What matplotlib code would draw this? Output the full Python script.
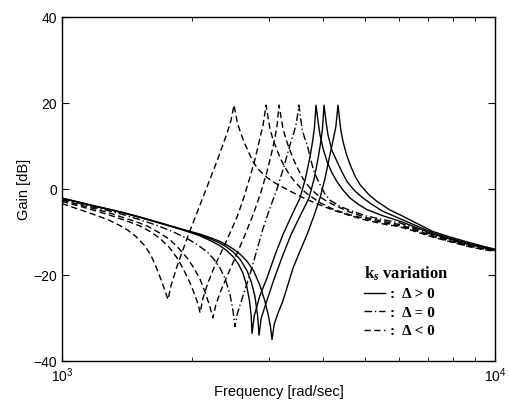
import matplotlib
matplotlib.use("Agg")
from matplotlib import pyplot as plt
from matplotlib.lines import Line2D
from matplotlib.ticker import LogLocator, NullFormatter

plt.rcParams['font.family'] = ['Liberation Sans', 'DejaVu Sans']
plt.rcParams['mathtext.fontset'] = 'custom'
plt.rcParams['mathtext.rm'] = 'Liberation Sans'
plt.rcParams['mathtext.bf'] = 'Liberation Serif:bold'
plt.rcParams['mathtext.it'] = 'Liberation Serif:italic:bold'

# ks variation, delta > 0 (solid)
freq_s1 = [1000, 1100, 1198, 1300, 1400, 1500, 1650, 1800, 1950, 2084, 2200, 2317, 2400, 2482,
           2560, 2618, 2670, 2710, 2735, 2747, 2780, 2860, 2974, 3100, 3238, 3390, 3545, 3650,
           3739, 3790, 3830, 3860, 3905, 3943, 4010, 4093, 4200, 4316, 4460, 4626, 4840, 5063,
           5500, 6034, 6600, 7192, 7900, 8614, 9300, 10000]
gain_s1 = [-2.2, -3.2, -4.1, -4.9, -5.7, -6.5, -7.7, -8.8, -9.9, -10.9, -12.0, -13.2, -14.3, -15.7,
           -17.6, -19.6, -22.5, -26.0, -29.5, -33.6, -29.5, -25.0, -20.7, -15.5, -10.6, -6.2, -2.1, 2.5,
           7.5, 11.0, 14.5, 19.5, 15.5, 12.6, 9.3, 6.4, 3.8, 1.7, -0.3, -2.1, -3.6, -4.8,
           -6.2, -7.5, -9.0, -10.5, -11.7, -12.8, -13.5, -14.2]
freq_s2 = [1000, 1100, 1198, 1300, 1400, 1500, 1650, 1800, 1950, 2084, 2200, 2317, 2400, 2482,
           2580, 2675, 2740, 2790, 2830, 2851, 2885, 2960, 3087, 3230, 3380, 3550, 3719, 3820,
           3901, 3960, 3995, 4028, 4080, 4114, 4200, 4316, 4430, 4553, 4750, 4957, 5200, 5512,
           6034, 6600, 7192, 7900, 8614, 9300, 10000]
gain_s2 = [-2.15, -3.15, -4.05, -4.85, -5.65, -6.45, -7.65, -8.75, -9.8, -10.7, -11.6, -12.6, -13.5, -14.6,
           -16.4, -19.0, -21.8, -25.0, -29.5, -34.0, -30.0, -26.5, -21.0, -15.6, -10.6, -6.2, -2.1, 2.3,
           7.0, 11.0, 14.0, 19.5, 15.0, 12.6, 9.0, 6.4, 4.0, 1.7, -0.5, -2.1, -3.6, -5.2,
           -6.9, -8.6, -10.2, -11.5, -12.6, -13.4, -14.1]
freq_s3 = [1000, 1100, 1198, 1300, 1400, 1500, 1650, 1800, 1950, 2084, 2200, 2317, 2400, 2482,
           2580, 2675, 2770, 2867, 2940, 2990, 3030, 3055, 3090, 3150, 3238, 3416, 3550, 3680,
           3810, 3943, 4050, 4158, 4230, 4290, 4339, 4400, 4457, 4540, 4626, 4750, 4879, 5100,
           5341, 5700, 6034, 6600, 7192, 7900, 8614, 9300, 10000]
gain_s3 = [-2.1, -3.1, -4.0, -4.8, -5.6, -6.4, -7.6, -8.7, -9.7, -10.5, -11.3, -12.2, -13.0, -13.9,
           -15.2, -16.8, -19.0, -22.5, -26.0, -29.0, -32.0, -35.0, -31.5, -29.0, -26.0, -18.4, -14.3, -10.6,
           -6.5, -2.1, 2.5, 8.0, 11.5, 14.5, 19.5, 14.0, 11.0, 8.0, 5.7, 3.0, 1.0, -1.2,
           -2.9, -4.8, -6.0, -8.0, -9.9, -11.2, -12.3, -13.2, -14.0]

# delta = 0 (dash-dot)
freq_c1 = [1000, 1100, 1198, 1300, 1400, 1500, 1650, 1800, 1944, 2050, 2162, 2250, 2317, 2380,
           2443, 2480, 2509, 2540, 2577, 2718, 2912, 3020, 3137, 3250, 3362, 3430, 3480, 3526,
           3583, 3630, 3680, 3740, 3799, 3870, 3943, 4050, 4158, 4380, 4626, 5063, 5500, 6034,
           6600, 7192, 7900, 8614, 9300, 10000]
gain_c1 = [-2.4, -3.4, -4.4, -5.2, -6.1, -7.0, -8.4, -9.9, -11.5, -12.9, -14.6, -16.5, -18.4, -20.8,
           -24.5, -28.0, -32.0, -29.0, -27.0, -19.8, -9.2, -4.5, 0.0, 5.0, 10.3, 13.0, 15.5, 19.5,
           14.0, 12.0, 10.4, 7.5, 4.8, 2.7, 1.0, -1.2, -2.6, -4.0, -5.0, -6.3, -7.1, -7.9,
           -9.3, -10.7, -11.9, -12.9, -13.6, -14.2]

# delta < 0 (dashed)
freq_d1 = [1000, 1100, 1198, 1280, 1361, 1420, 1480, 1547, 1600, 1640, 1680, 1720, 1757, 1785,
           1843, 1944, 2050, 2162, 2280, 2405, 2457, 2496, 2540, 2577, 2630, 2675, 2762, 2840,
           2912, 3000, 3104, 3308, 3545, 3850, 4225, 4626, 5063, 5500, 6034, 6600, 7192, 7900,
           8614, 9300, 10000]
gain_d1 = [-3.4, -4.8, -6.1, -7.2, -8.5, -9.6, -11.0, -13.0, -15.2, -17.5, -20.2, -23.0, -25.7, -22.5,
           -18.0, -11.5, -5.5, 0.5, 6.5, 13.0, 16.0, 19.5, 15.5, 13.5, 11.0, 9.4, 6.3, 4.6,
           3.5, 2.4, 1.4, -0.1, -1.7, -3.3, -4.9, -6.2, -7.3, -8.1, -8.8, -10.0, -11.2, -12.3,
           -13.3, -14.0, -14.5]
freq_d2 = [1000, 1100, 1198, 1300, 1400, 1514, 1600, 1684, 1770, 1843, 1910, 1975, 2030, 2065,
           2084, 2115, 2170, 2250, 2400, 2537, 2630, 2718, 2800, 2867, 2915, 2959, 3022, 3071,
           3187, 3238, 3330, 3416, 3550, 3680, 3943, 4250, 4626, 5063, 5500, 6034, 6600, 7192,
           7900, 8614, 9300, 10000]
gain_d2 = [-2.9, -4.0, -5.1, -6.2, -7.3, -8.6, -9.9, -11.5, -13.6, -16.0, -18.8, -21.8, -24.8, -27.0,
           -28.8, -25.5, -22.0, -18.0, -12.0, -6.5, -2.0, 2.8, 7.5, 12.0, 15.0, 19.5, 14.0, 11.5,
           7.3, 5.9, 3.8, 2.2, 0.3, -1.1, -3.2, -4.8, -6.0, -7.0, -7.8, -8.6, -9.8, -11.0,
           -12.2, -13.2, -13.9, -14.4]
freq_d3 = [1000, 1100, 1198, 1300, 1400, 1500, 1572, 1680, 1776, 1860, 1944, 2020, 2084, 2140,
           2190, 2232, 2265, 2320, 2400, 2537, 2650, 2762, 2870, 2974, 3050, 3104, 3140, 3170,
           3238, 3300, 3416, 3500, 3602, 3740, 3881, 4050, 4225, 4600, 5063, 5500, 6034, 6600,
           7192, 7900, 8614, 9300, 10000]
gain_d3 = [-2.6, -3.7, -4.7, -5.7, -6.8, -7.8, -8.6, -10.2, -11.8, -13.8, -16.0, -18.5, -21.0, -24.0,
           -27.0, -30.0, -27.0, -24.0, -20.5, -15.0, -10.5, -6.0, -1.2, 4.0, 8.5, 12.0, 15.0, 19.5,
           14.1, 11.2, 7.1, 4.8, 2.4, 0.2, -1.3, -2.6, -3.6, -5.3, -6.7, -7.5, -8.3, -9.6,
           -10.9, -12.1, -13.1, -13.8, -14.3]

legend_labels = [':  \u0394 > 0', ':  \u0394 = 0', ':  \u0394 < 0']

solid = '-'
dashdot = (0, (5.5, 2.0, 1.0, 2.0))
dashed = (0, (4.5, 2.5))

fig = plt.figure(figsize=(5.1, 4.03), dpi=100)
ax = fig.add_axes([0.1216, 0.1042, 0.8490, 0.8536])

for f, g in [(freq_s1, gain_s1), (freq_s2, gain_s2), (freq_s3, gain_s3)]:
    ax.plot(f, g, color='black', lw=1.0, linestyle=solid)
ax.plot(freq_c1, gain_c1, color='black', lw=1.0, linestyle=dashdot)
for f, g in [(freq_d1, gain_d1), (freq_d2, gain_d2), (freq_d3, gain_d3)]:
    ax.plot(f, g, color='black', lw=1.0, linestyle=dashed)

ax.set_xscale('log')
ax.set_xlim(1000, 10000)
ax.set_ylim(-40, 40)
ax.set_yticks([-40, -20, 0, 20, 40])
ax.xaxis.set_minor_locator(LogLocator(base=10, subs=range(2, 10)))
ax.xaxis.set_minor_formatter(NullFormatter())
ax.tick_params(which='both', direction='in', top=True, right=True, labelsize=10)
ax.tick_params(which='major', length=5)
ax.tick_params(which='minor', length=3)
ax.tick_params(axis='x', which='major', pad=4)
for s in ax.spines.values():
    s.set_linewidth(1.0)

ax.set_xlabel('Frequency [rad/sec]', fontsize=10.5, labelpad=0)
ax.set_ylabel('Gain [dB]', fontsize=10.5, labelpad=2)

handles = [Line2D([], [], color='black', lw=1.0, linestyle=ls) for ls in (solid, dashdot, dashed)]
leg = ax.legend(handles, legend_labels, loc='upper left', bbox_to_anchor=(0.665, 0.32),
                frameon=False, handlelength=1.4, handletextpad=0.3, labelspacing=0.3,
                title=r'$\mathbf{k}_{\mathit{s}}$ variation',
                prop={'family': 'Liberation Serif', 'weight': 'bold', 'size': 11})
leg.get_title().set_fontfamily('Liberation Serif')
leg.get_title().set_fontweight('bold')
leg.get_title().set_fontsize(12)
leg._legend_box.align = 'left'

fig.savefig('out.png', dpi=100)
plt.close(fig)
